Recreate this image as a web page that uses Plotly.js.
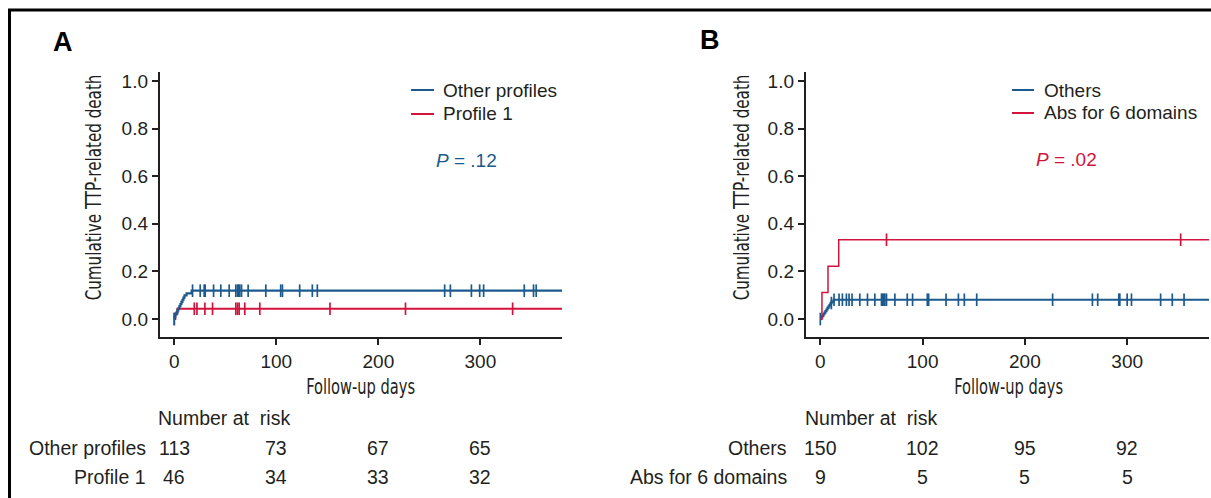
<!DOCTYPE html>
<html>
<head>
<meta charset="utf-8">
<script src="https://cdn.plot.ly/plotly-3.0.1.min.js"></script>
<style>html,body{margin:0;padding:0;background:#fff;}#chart{width:1211px;height:498px;}</style>
</head>
<body>
<div id="chart"></div>
<script>
// ---------- DATA ----------
const lastDay = 380;
const xTicks = [0, 100, 200, 300];
const yTicks = [0, 0.2, 0.4, 0.6, 0.8, 1.0];
const yTitle = "Cumulative TTP-related death";
const xTitle = "Follow-up days";

// Panel A
const aOtherName = "Other profiles";
const aOtherTimes = [0, 0.5, 1, 2, 3, 4, 5, 6, 7, 8, 9, 10, 12, 17];
const aOtherCum = [0, 0.009, 0.018, 0.027, 0.036, 0.045, 0.054, 0.063, 0.072, 0.081, 0.09, 0.099, 0.108, 0.119];
const aOtherCensor = [0, 17.9, 25.4, 29.3, 30.3, 38.5, 45.6, 53.8, 60.3, 62, 63, 64.2, 65.9, 72.4, 89.7, 104.3, 106, 122.9, 135.3, 140.2, 265, 270.6, 291.2, 299.3, 303.2, 343, 352.1, 354.7];
const aP1Name = "Profile 1";
const aP1Times = [0, 1, 3];
const aP1Cum = [0, 0.022, 0.043];
const aP1Censor = [0, 19.6, 22.2, 30, 37.5, 60.3, 62, 63.6, 69.1, 83.8, 152.6, 226.6, 331.6];
const aPValue = ".12";
const aRiskLabels = ["Other profiles", "Profile 1"];
const aRiskOther = [113, 73, 67, 65];
const aRiskP1 = [46, 34, 33, 32];

// Panel B
const bOtherName = "Others";
const bOtherTimes = [0, 1, 2, 3, 4, 5, 6, 7, 8, 9, 10, 11, 13];
const bOtherCum = [0, 0.007, 0.013, 0.02, 0.027, 0.033, 0.04, 0.047, 0.053, 0.06, 0.067, 0.073, 0.081];
const bOtherCensor = [0, 10.8, 13.4, 18.3, 21.6, 25.5, 28.1, 31, 38.6, 46.1, 53.3, 59.8, 60.8, 62.1, 63.1, 64.7, 72.9, 85, 90.2, 104.6, 105.9, 122.9, 135, 140.8, 152.9, 227.1, 266, 271.2, 291.8, 292.8, 300, 304.2, 332.7, 344.1, 355.6];
const bAbsName = "Abs for 6 domains";
const bAbsTimes = [0, 1.6, 7.5, 18];
const bAbsCum = [0, 0.111, 0.222, 0.333];
const bAbsCensor = [64.7, 352.3];
const bPValue = ".02";
const bRiskLabels = ["Others", "Abs for 6 domains"];
const bRiskOther = [150, 102, 95, 92];
const bRiskAbs = [9, 5, 5, 5];

// ---------- STYLE ----------
const BLUE = "#1c5a8e";
const RED = "#d2143c";
const INK = "#231f20";
const SANS = "Liberation Sans, Arial, Helvetica, sans-serif";
const NARROW = "Liberation Sans Narrow, Arial Narrow, DejaVu Sans Condensed, sans-serif";
const W = 1211, H = 498;
const px = x => x / W;
const py = y => 1 - y / H;

function stepAt(times, cum, t) {
  let v = cum[0];
  for (let i = 0; i < times.length; i++) if (times[i] <= t) v = cum[i];
  return v;
}
function curve(times, cum, color, width, xa, ya, name) {
  return {
    x: times.concat([lastDay]), y: cum.concat([cum[cum.length - 1]]),
    xaxis: xa, yaxis: ya, name: name, mode: "lines",
    line: {shape: "hv", color: color, width: width}, showlegend: false, hoverinfo: "skip"
  };
}
function censor(times, cum, cens, color, xa, ya, name) {
  return {
    x: cens, y: cens.map(t => stepAt(times, cum, t)),
    xaxis: xa, yaxis: ya, name: name + " censored", mode: "markers",
    marker: {symbol: "line-ns-open", size: 9, color: color, line: {color: color, width: 1.7}},
    showlegend: false, hoverinfo: "skip"
  };
}

const traces = [
  curve(aP1Times, aP1Cum, RED, 2, "x", "y", aP1Name),
  censor(aP1Times, aP1Cum, aP1Censor, RED, "x", "y", aP1Name),
  curve(aOtherTimes, aOtherCum, BLUE, 2.2, "x", "y", aOtherName),
  censor(aOtherTimes, aOtherCum, aOtherCensor, BLUE, "x", "y", aOtherName),
  curve(bOtherTimes, bOtherCum, BLUE, 2.2, "x2", "y2", bOtherName),
  censor(bOtherTimes, bOtherCum, bOtherCensor, BLUE, "x2", "y2", bOtherName),
  curve(bAbsTimes, bAbsCum, RED, 1.5, "x2", "y2", bAbsName),
  censor(bAbsTimes, bAbsCum, bAbsCensor, RED, "x2", "y2", bAbsName)
];

const xRange = [-14, 380];
const yRange = [-0.0756, 1.0378];
function xAxis(domain, anchor) {
  return {
    domain: domain, anchor: anchor, range: xRange, tickvals: xTicks, ticktext: xTicks.map(String),
    showline: true, linecolor: INK, linewidth: 2.2, ticks: "outside", ticklen: 6, tickwidth: 2, tickcolor: INK,
    showgrid: false, zeroline: false, tickfont: {family: SANS, size: 19, color: INK}
  };
}
function yAxis(anchor) {
  return {
    domain: [py(337), py(72)], anchor: anchor, range: yRange, tickvals: yTicks,
    ticktext: yTicks.map(v => v.toFixed(1)),
    showline: true, linecolor: INK, linewidth: 2.2, ticks: "outside", ticklen: 6, tickwidth: 2, tickcolor: INK,
    showgrid: false, zeroline: false, tickfont: {family: SANS, size: 19, color: INK}
  };
}

const ann = [];
function txt(text, x, y, opts) {
  ann.push(Object.assign({
    text: text, x: x, y: y, xref: "paper", yref: "paper", showarrow: false,
    xanchor: "center", yanchor: "middle", font: {family: SANS, size: 19, color: INK}
  }, opts || {}));
}
// panel letters
txt("<b>A</b>", px(63), py(42), {font: {family: SANS, size: 27, color: "#000"}});
txt("<b>B</b>", px(710), py(40), {font: {family: SANS, size: 27, color: "#000"}});
// axis titles (condensed font, narrowed further after render)
const TF = {family: NARROW, size: 22, color: INK};
txt(yTitle, px(93), py(188), {textangle: -90, font: TF});
txt(yTitle, px(741), py(188), {textangle: -90, font: TF});
txt(xTitle, px(360), py(386), {font: TF});
txt(xTitle, px(1008), py(386), {font: TF});
// legends
txt(aOtherName, px(441), py(90), {xanchor: "left"});
txt(aP1Name, px(441), py(114), {xanchor: "left"});
txt(bOtherName, px(1042), py(90), {xanchor: "left"});
txt(bAbsName, px(1042), py(113), {xanchor: "left"});
// p values
txt("<i>P</i> = " + aPValue, px(466), py(160), {font: {family: SANS, size: 19, color: BLUE}});
txt("<i>P</i> = " + bPValue, px(1066), py(159), {font: {family: SANS, size: 19, color: RED}});
// risk tables
const RF = {family: SANS, size: 19.5, color: INK};
txt("Number at  risk", px(156), py(418), {xanchor: "left", font: RF});
txt("Number at  risk", px(803), py(418), {xanchor: "left", font: RF});
txt(aRiskLabels[0], px(148), py(448), {xanchor: "right", font: RF});
txt(aRiskLabels[1], px(148), py(477), {xanchor: "right", font: RF});
txt(bRiskLabels[0], px(789), py(448), {xanchor: "right", font: RF});
txt(bRiskLabels[1], px(789), py(477), {xanchor: "right", font: RF});
function riskRow(vals, xref, y) {
  vals.forEach((v, i) => ann.push({
    text: String(v), x: xTicks[i], y: y, xref: xref, yref: "paper", showarrow: false,
    xanchor: "center", yanchor: "middle", font: RF
  }));
}
riskRow(aRiskOther, "x", py(448));
riskRow(aRiskP1, "x", py(477));
riskRow(bRiskOther, "x2", py(448));
riskRow(bRiskAbs, "x2", py(477));

const shapes = [
  // figure border (left + top)
  {type: "line", xref: "paper", yref: "paper", x0: px(9.5), x1: px(9.5), y0: 0, y1: py(10), line: {color: "#000", width: 3}},
  {type: "line", xref: "paper", yref: "paper", x0: px(8), x1: 1, y0: py(10), y1: py(10), line: {color: "#000", width: 3}},
  // legend line samples
  {type: "line", xref: "paper", yref: "paper", x0: px(411), x1: px(434), y0: py(90), y1: py(90), line: {color: BLUE, width: 2}},
  {type: "line", xref: "paper", yref: "paper", x0: px(411), x1: px(434), y0: py(114), y1: py(114), line: {color: RED, width: 2}},
  {type: "line", xref: "paper", yref: "paper", x0: px(1012), x1: px(1034), y0: py(90), y1: py(90), line: {color: BLUE, width: 2}},
  {type: "line", xref: "paper", yref: "paper", x0: px(1012), x1: px(1034), y0: py(113), y1: py(113), line: {color: RED, width: 2}}
];

const layout = {
  width: W, height: H, margin: {l: 0, r: 0, t: 0, b: 0},
  paper_bgcolor: "#fff", plot_bgcolor: "#fff", showlegend: false,
  xaxis: xAxis([px(160), px(562)], "y"),
  yaxis: yAxis("x"),
  xaxis2: xAxis([px(806), px(1209)], "y2"),
  yaxis2: yAxis("x2"),
  annotations: ann, shapes: shapes
};

// narrow the axis-title text to mimic a condensed typeface
function narrowTitles() {
  const targets = {};
  targets[yTitle] = 226;
  targets[xTitle] = 109;
  document.querySelectorAll("#chart .annotation-text").forEach(el => {
    const goal = targets[el.textContent];
    if (!goal) return;
    const bb = el.getBBox();
    if (!bb.width) return;
    const s = Math.min(1, goal / bb.width);
    const cx = bb.x + bb.width / 2, cy = bb.y + bb.height / 2;
    const prev = el.getAttribute("transform") || "";
    el.setAttribute("transform", prev + " translate(" + cx + "," + cy + ") scale(" + s + ",1) translate(" + (-cx) + "," + (-cy) + ")");
  });
}

Plotly.newPlot("chart", traces, layout, {displayModeBar: false, staticPlot: true}).then(narrowTitles);
</script>
</body>
</html>
